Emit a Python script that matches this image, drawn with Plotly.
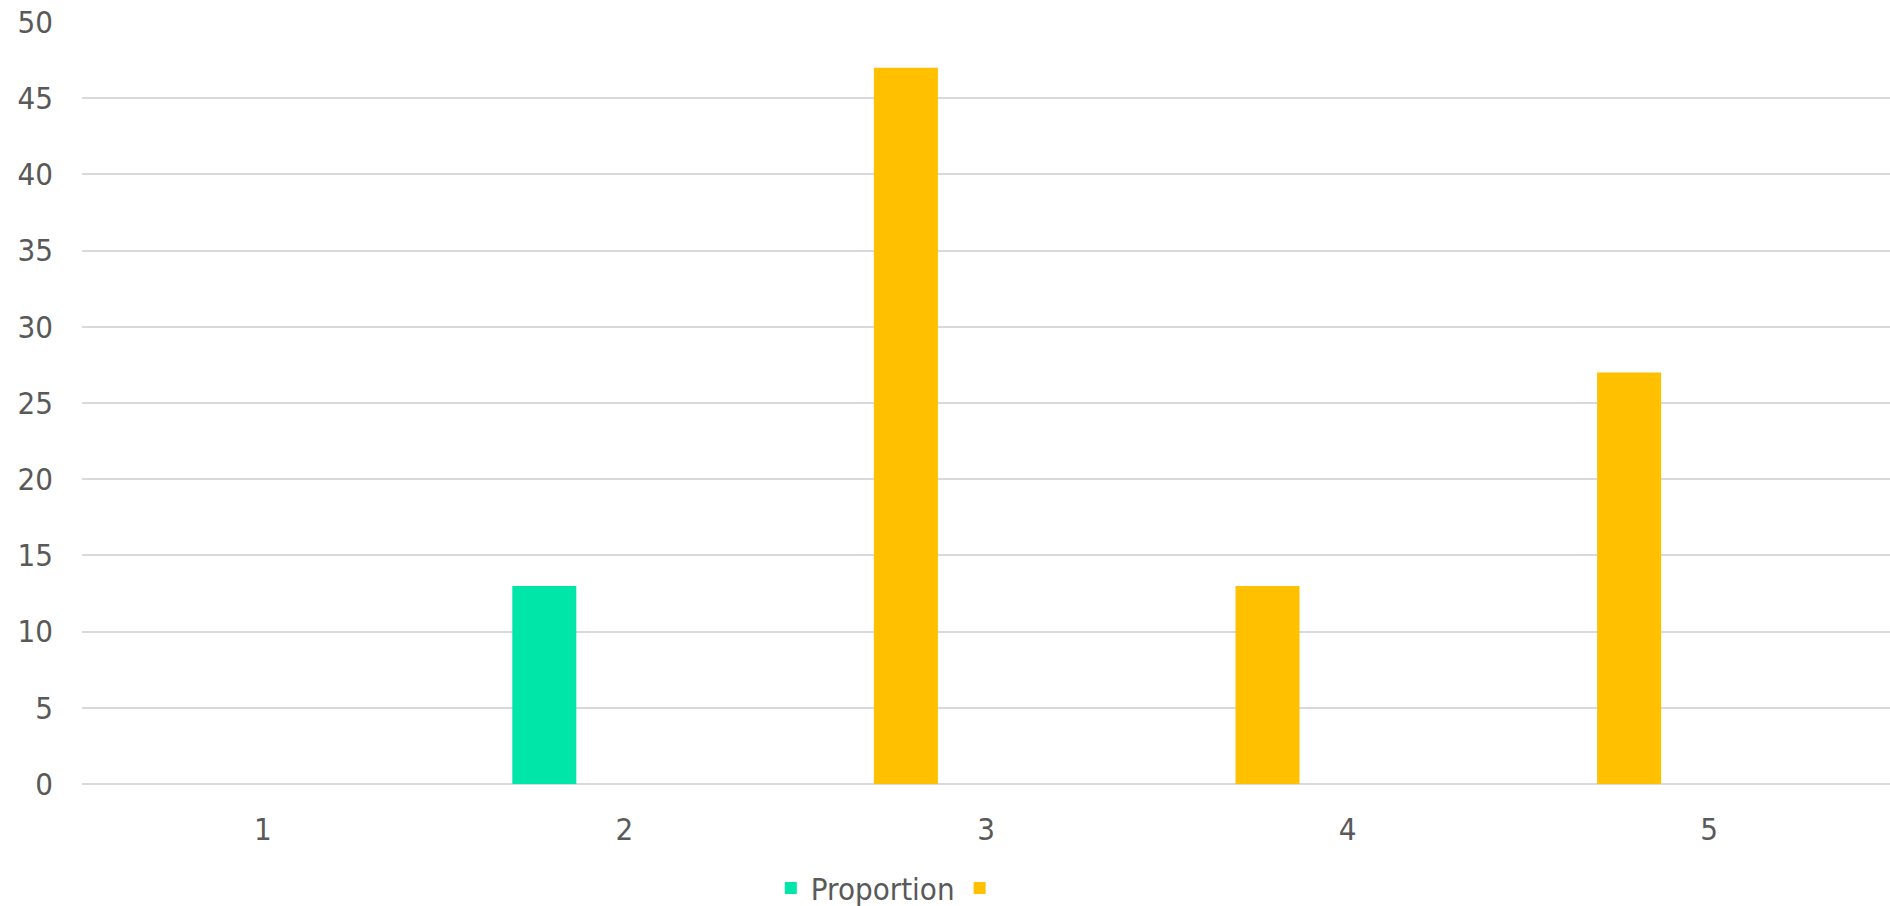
import plotly.graph_objects as go

# categories along the x axis
categories = [1, 2, 3, 4, 5]

# series values (None = no bar for that category)
proportion = [None, 13, None, None, None]
second_series = [None, None, 47, 13, 27]

# axis ticks
y_ticks = [0, 5, 10, 15, 20, 25, 30, 35, 40, 45, 50]

GREEN = "#00E5A8"
GOLD = "#FFC000"
TEXT = "#595959"
GRID = "#D9D9D9"
FONT = "DejaVu Sans Condensed, DejaVu Sans, sans-serif"

BAR_W = 0.177
BAR_OFF = -0.31

fig = go.Figure()
fig.add_trace(go.Bar(
    x=categories, y=proportion, name="Proportion",
    marker=dict(color=GREEN, line=dict(width=0)),
    width=BAR_W, offset=BAR_OFF,
))
fig.add_trace(go.Bar(
    x=categories, y=second_series, name="",
    marker=dict(color=GOLD, line=dict(width=0)),
    width=BAR_W, offset=BAR_OFF,
))

fig.update_layout(
    width=1890, height=906,
    margin=dict(l=82, r=0, t=22, b=122, autoexpand=False),
    paper_bgcolor="white", plot_bgcolor="white",
    font=dict(family=FONT, size=31, color=TEXT),
    barmode="overlay",
    showlegend=True,
    legend=dict(
        orientation="h",
        x=0.381, xanchor="left",
        y=-0.137, yanchor="middle",
        font=dict(family=FONT, size=31, color=TEXT),
        itemwidth=30,
        bgcolor="rgba(0,0,0,0)",
    ),
    xaxis=dict(
        range=[0.5, 5.5],
        tickmode="array", tickvals=categories,
        ticktext=[str(c) for c in categories],
        showgrid=False, zeroline=False, showline=False,
        ticks="", ticklabelstandoff=24,
        tickfont=dict(family=FONT, size=31, color=TEXT),
    ),
    yaxis=dict(
        range=[0, 50],
        tickmode="array", tickvals=y_ticks,
        showgrid=True, gridcolor=GRID, gridwidth=1.5,
        zeroline=True, zerolinecolor=GRID, zerolinewidth=1.5,
        showline=False, ticks="",
        ticklabelstandoff=28,
        tickfont=dict(family=FONT, size=31, color=TEXT),
    ),
)

fig.write_html("out.html")
